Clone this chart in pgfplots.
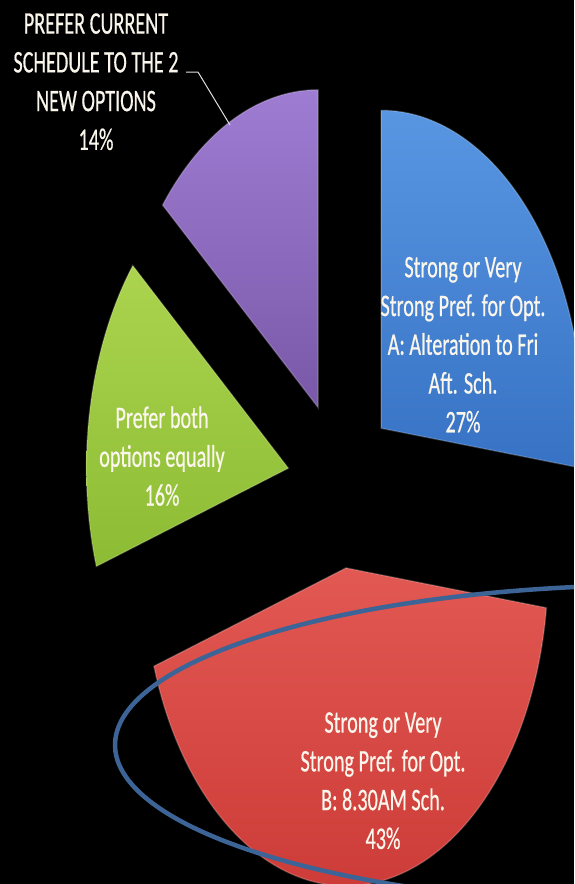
\documentclass[border=0pt]{standalone}
\usepackage{pgfplots}
\usepackage{pgfplotstable}
\pgfplotsset{compat=1.18}
\usepackage{fontspec}
\setmainfont{Carlito}
\newfontfamily\labfont{Carlito}[FakeBold=0.7]
\usepackage{graphicx}

\pgfplotstableread{
id value
A 27
B 43
C 16
D 14
}\piedata

\definecolor{blueT}{RGB}{88,150,226}
\definecolor{blueB}{RGB}{55,114,196}
\definecolor{redT}{RGB}{226,88,82}
\definecolor{redB}{RGB}{205,60,56}
\definecolor{greenT}{RGB}{172,212,78}
\definecolor{greenB}{RGB}{140,188,52}
\definecolor{purpT}{RGB}{158,124,210}
\definecolor{purpB}{RGB}{122,88,168}
\definecolor{ringc}{RGB}{60,100,150}
\definecolor{labc}{RGB}{250,246,236}

\newcommand\lab[1]{\scalebox{1}[1.55]{\labfont\fontsize{20.2}{25}\selectfont\begin{tabular}{@{}c@{}}#1\end{tabular}}}

% geometry (pixel units)
\def\cx{341}\def\cy{484}\def\ra{202}\def\rb{318}\def\ex{0.265}

\pgfplotstablegetelem{0}{value}\of\piedata\let\vA\pgfplotsretval
\pgfplotstablegetelem{1}{value}\of\piedata\let\vB\pgfplotsretval
\pgfplotstablegetelem{2}{value}\of\piedata\let\vC\pgfplotsretval
\pgfplotstablegetelem{3}{value}\of\piedata\let\vD\pgfplotsretval

\pgfmathsetmacro\sA{90}
\pgfmathsetmacro\eA{\sA-3.6*\vA}
\pgfmathsetmacro\eB{\eA-3.6*\vB}
\pgfmathsetmacro\eC{\eB-3.6*\vC}
\pgfmathsetmacro\eD{\eC-3.6*\vD}

\newcommand\apex[3]{% name, start, end
  \pgfmathsetmacro\tmpm{(#2+#3)/2}%
  \pgfmathsetmacro\tmpx{\cx+\ex*\ra*cos(\tmpm)}%
  \pgfmathsetmacro\tmpy{\cy-\ex*\rb*sin(\tmpm)}%
  \expandafter\let\csname px#1\endcsname\tmpx
  \expandafter\let\csname py#1\endcsname\tmpy
}
\apex{A}{\sA}{\eA}
\apex{B}{\eA}{\eB}
\apex{C}{\eB}{\eC}
\apex{D}{\eC}{\eD}

\begin{document}
\begin{tikzpicture}
\begin{axis}[scale only axis, width=574pt, height=884pt,
  xmin=0, xmax=574, ymin=0, ymax=884, y dir=reverse,
  axis line style={draw=none}, ticks=none,
  axis background/.style={fill=black}, clip=true]

\addplot[draw=white, draw opacity=0.18, line width=1.5pt, top color=blueT, bottom color=blueB, domain=\eA:\sA, samples=90]
  ({\pxA+\ra*cos(x)}, {\pyA-\rb*sin(x)}) -- (\pxA,\pyA) -- cycle;
\addplot[draw=white, draw opacity=0.18, line width=1.5pt, top color=redT, bottom color=redB, domain=\eB:\eA, samples=120]
  ({\pxB+\ra*cos(x)}, {\pyB-\rb*sin(x)}) -- (\pxB,\pyB) -- cycle;
\addplot[draw=white, draw opacity=0.18, line width=1.5pt, top color=greenT, bottom color=greenB, domain=\eC:\eB, samples=60]
  ({\pxC+\ra*cos(x)}, {\pyC-\rb*sin(x)}) -- (\pxC,\pyC) -- cycle;
\addplot[draw=white, draw opacity=0.18, line width=1.5pt, top color=purpT, bottom color=purpB, domain=\eD:\eC, samples=60]
  ({\pxD+\ra*cos(x)}, {\pyD-\rb*sin(x)}) -- (\pxD,\pyD) -- cycle;

% annotation ring
\addplot[ringc, line width=4.5pt, domain=0:360, samples=240, smooth]
  ({661+546*cos(x)}, {745+160*sin(x)});

% leader line
\draw[white!75!gray, line width=1pt] (186,72) -- (198,72) -- (230,125);

\node[text=labc, inner sep=0pt] at (96,84)
  {\lab{PREFER CURRENT\\SCHEDULE TO THE 2\\NEW OPTIONS\\14\%}};
\node[text=labc, inner sep=0pt] at (463,347)
  {\lab{Strong or Very\\Strong Pref. for Opt.\\A: Alteration to Fri\\Aft. Sch.\\27\%}};
\node[text=labc, inner sep=0pt] at (162,459)
  {\lab{Prefer both\\options equally\\16\%}};
\node[text=labc, inner sep=0pt] at (383,783)
  {\lab{Strong or Very\\Strong Pref. for Opt.\\B: 8.30AM Sch.\\43\%}};
\end{axis}
\pgfresetboundingbox
\useasboundingbox (current axis.south west) rectangle (current axis.north east);
\end{tikzpicture}
\end{document}
